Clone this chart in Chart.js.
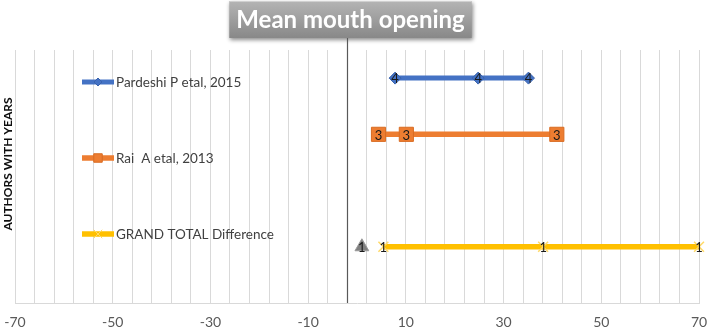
<!DOCTYPE html>
<html><head><meta charset="utf-8">
<style>html,body{margin:0;padding:0;background:#fff}#wrap{width:708px;height:330px;position:relative}</style>
<script src="https://cdn.jsdelivr.net/npm/chart.js@4.4.1/dist/chart.umd.min.js"></script>
</head><body><div id="wrap"><canvas id="c" width="708" height="330"></canvas></div>
<script>
// ---- data ----
const chartTitle = 'Mean mouth opening';
const yAxisTitle = 'AUTHORS WITH YEARS';
const seriesNames = ['Pardeshi P etal, 2015', 'Rai  A etal, 2013', 'GRAND TOTAL Difference'];
const pardeshiX = [7.8, 24.8, 35.1];
const pardeshiY = [4, 4, 4];
const raiX = [4.4, 10.1, 40.9];
const raiY = [3, 3, 3];
const grandX = [5.4, 38.1, 70];
const grandY = [1, 1, 1];
const extraX = [1];
const extraY = [1];
const xTickLabels = [-70, -50, -30, -10, 10, 30, 50, 70];
const xMin = -70, xMax = 70, xGridStep = 4;
const yMin = 0, yMax = 4.5;
const axisCrossX = -2;

const FONT = 'Lato, "Open Sans", sans-serif';
const pts = (xs, ys) => xs.map((x, i) => ({x: x, y: ys[i]}));

const titleBox = {
  id: 'titleBox',
  beforeDraw(chart) {
    const tb = chart.titleBlock;
    if (!tb) return;
    const ctx = chart.ctx;
    ctx.save();
    ctx.font = 'bold 24px ' + FONT;
    const w = ctx.measureText(chartTitle).width;
    const cx = (tb.left + tb.right) / 2;
    const x0 = cx - w / 2 - 7, x1 = cx + w / 2 + 7;
    const y0 = 1, y1 = 38;
    ctx.shadowColor = 'rgba(0,0,0,0.45)';
    ctx.shadowBlur = 4; ctx.shadowOffsetX = 1; ctx.shadowOffsetY = 2;
    const g = ctx.createLinearGradient(0, y0, 0, y1);
    g.addColorStop(0, '#b4b4b4'); g.addColorStop(1, '#888888');
    ctx.fillStyle = g;
    ctx.fillRect(x0, y0, x1 - x0, y1 - y0);
    ctx.shadowColor = 'transparent';
    ctx.strokeStyle = '#d0d0d0'; ctx.lineWidth = 1;
    ctx.beginPath(); ctx.moveTo(x0, y0 + 0.5); ctx.lineTo(x1, y0 + 0.5); ctx.stroke();
    ctx.restore();
  }
};

const crossAxis = {
  id: 'crossAxis',
  beforeDatasetsDraw(chart) {
    const ctx = chart.ctx, xs = chart.scales.x, a = chart.chartArea;
    const px = Math.round(xs.getPixelForValue(axisCrossX)) + 0.5;
    ctx.save();
    ctx.strokeStyle = '#595959'; ctx.lineWidth = 1.2;
    ctx.beginPath(); ctx.moveTo(px, 38); ctx.lineTo(px, a.bottom); ctx.stroke();
    ctx.restore();
  }
};

const yTitle = {
  id: 'yTitle',
  afterDraw(chart) {
    const ctx = chart.ctx;
    ctx.save();
    ctx.translate(8, 164);
    ctx.rotate(-Math.PI / 2);
    ctx.font = 'bold 12px ' + FONT;
    ctx.fillStyle = '#0d0d0d';
    ctx.textAlign = 'center'; ctx.textBaseline = 'middle';
    ctx.fillText(yAxisTitle, 0, 0);
    ctx.restore();
  }
};

const valueLabels = {
  id: 'valueLabels',
  afterDatasetsDraw(chart) {
    const ctx = chart.ctx;
    ctx.save();
    ctx.font = '13px ' + FONT;
    ctx.fillStyle = '#1a1a1a';
    ctx.textAlign = 'center'; ctx.textBaseline = 'middle';
    chart.data.datasets.forEach((ds, i) => {
      const meta = chart.getDatasetMeta(i);
      meta.data.forEach((pt, j) => ctx.fillText(String(ds.data[j].y), pt.x, pt.y + 1));
    });
    ctx.restore();
  }
};

const inLegend = {
  id: 'inLegend',
  afterDraw(chart) {
    const ctx = chart.ctx;
    const rows = [82, 158, 234];
    ctx.save();
    chart.data.datasets.slice(0, 3).forEach((ds, i) => {
      const y = rows[i];
      ctx.strokeStyle = ds.borderColor; ctx.lineWidth = ds.borderWidth;
      ctx.beginPath(); ctx.moveTo(82, y); ctx.lineTo(114, y); ctx.stroke();
      ctx.fillStyle = ds.pointBackgroundColor; ctx.strokeStyle = ds.pointBorderColor;
      ctx.lineWidth = 1;
      Chart.helpers.drawPoint(ctx, {pointStyle: ds.pointStyle, radius: ds.legendRadius, rotation: 0, borderWidth: 1}, 98, y);
      ctx.font = '13.5px ' + FONT;
      ctx.fillStyle = '#404040';
      ctx.textAlign = 'left'; ctx.textBaseline = 'middle';
      ctx.fillText(ds.label, 116, y + 1);
    });
    ctx.restore();
  }
};

new Chart(document.getElementById('c'), {
  type: 'scatter',
  data: {
    datasets: [
      {label: seriesNames[0], data: pts(pardeshiX, pardeshiY), showLine: true,
       borderColor: '#4472C4', borderWidth: 5, pointStyle: 'rectRot', pointRadius: 6,
       pointBackgroundColor: '#4472C4', pointBorderColor: '#3a63ad', pointBorderWidth: 1,
       legendRadius: 4, clip: false},
      {label: seriesNames[1], data: pts(raiX, raiY), showLine: true,
       borderColor: '#ED7D31', borderWidth: 5.5, pointStyle: 'rect', pointRadius: 10,
       pointBackgroundColor: '#ED7D31', pointBorderColor: '#d96c22', pointBorderWidth: 1,
       legendRadius: 6, clip: false},
      {label: seriesNames[2], data: pts(grandX, grandY), showLine: true,
       borderColor: '#FFC000', borderWidth: 5.5, pointStyle: 'crossRot', pointRadius: 7,
       pointBackgroundColor: '#FFE699', pointBorderColor: '#FFD966', pointBorderWidth: 1.5,
       legendRadius: 6, clip: false},
      {label: '', data: pts(extraX, extraY), showLine: false,
       borderColor: '#7F7F7F', pointStyle: 'triangle', pointRadius: 8,
       pointBackgroundColor: '#7F7F7F', pointBorderColor: '#9a9a9a', pointBorderWidth: 1, clip: false}
    ]
  },
  options: {
    responsive: false,
    animation: false,
    layout: {autoPadding: false, padding: {left: 2, right: 9, top: 0, bottom: 0}},
    plugins: {
      legend: {display: false},
      tooltip: {enabled: false},
      title: {display: true, text: chartTitle, color: '#ffffff',
              font: {family: FONT, size: 24, weight: 'bold'},
              padding: {top: 6, bottom: 15.2}}
    },
    scales: {
      x: {type: 'linear', min: xMin, max: xMax,
          grid: {color: '#d9d9d9', lineWidth: 1, drawTicks: false},
          border: {display: true, color: '#d9d9d9'},
          ticks: {stepSize: xGridStep, autoSkip: false, maxRotation: 0, padding: 11,
                  color: '#595959', font: {family: FONT, size: 14},
                  callback: v => xTickLabels.includes(Math.round(v)) ? String(Math.round(v)) : ''},
          afterFit: s => { s.height = 27; s.paddingLeft = 0; s.paddingRight = 0; }},
      y: {type: 'linear', min: yMin, max: yMax,
          grid: {display: false}, border: {display: false},
          ticks: {display: false},
          afterFit: s => { s.width = 13; s.paddingTop = 0; s.paddingBottom = 0; }}
    }
  },
  plugins: [titleBox, crossAxis, valueLabels, inLegend, yTitle]
});
</script>
</body></html>
